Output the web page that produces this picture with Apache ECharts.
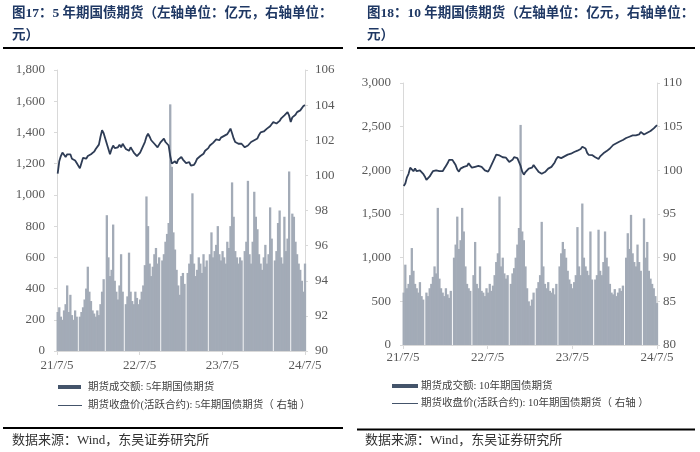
<!DOCTYPE html>
<html><head><meta charset="utf-8">
<script src="https://cdn.jsdelivr.net/npm/echarts@6/dist/echarts.min.js"></script>
<style>html,body{margin:0;padding:0;background:#fff}#c{width:700px;height:452px}</style>
</head><body><div id="c"></div>
<script>
// x tick labels (one per year, day offsets 0, 365, 730, 1095 from 2021-07-05)
const xTickLabels = ['21/7/5', '22/7/5', '23/7/5', '24/7/5'];

// Fig 17: 5-year treasury futures — weekly turnover (亿元), 0 = holiday gap
const leftVolume = [
  250,280,220,200,260,300,420,250,360,230,200,260,220,0,
  220,250,280,330,400,540,380,320,260,240,220,260,230,300,380,460,0,
  870,600,480,520,810,450,380,330,420,620,380,0,
  300,350,630,380,320,300,380,340,300,330,380,420,550,990,800,560,480,540,620,660,560,600,0,
  580,620,700,750,820,1580,1180,760,650,520,420,360,480,500,430,0,
  500,560,620,1010,560,480,520,600,560,500,620,540,580,0,
  620,760,600,640,680,800,620,580,640,600,560,700,660,800,1080,860,640,600,560,600,580,0,
  640,700,1090,620,560,700,1020,860,780,620,560,520,600,680,560,620,920,720,0,
  580,640,820,900,600,560,860,640,720,1150,0,
  880,860,700,620,560,520,450,380,560
];
// Fig 17: closing price (active contract), right axis
const leftPrice = [
  100.1,100.8,101.1,101.3,101.2,101.05,101.2,101.1,101.2,100.95,
  101.0,100.85,100.7,100.6,100.4,100.7,101.0,101.05,100.95,101.1,
  101.05,101.2,101.3,101.35,101.5,101.6,101.75,102.2,102.57,102.4,
  102.3,101.8,101.5,101.2,101.5,101.7,101.55,101.65,101.6,101.75,
  101.6,101.8,101.65,101.5,101.55,101.4,101.6,101.45,101.3,101.2,
  101.1,101.05,101.3,101.5,101.7,101.9,102.2,102.37,102.2,102.0,
  101.95,101.8,101.85,101.6,101.75,101.9,101.95,102.09,101.9,101.8,
  101.7,101.1,100.67,100.6,100.8,100.67,100.9,101.0,101.05,100.9,
  100.86,100.7,100.6,100.75,100.55,100.48,100.6,100.75,100.95,101.0,
  101.1,101.2,101.23,101.4,101.5,101.55,101.7,101.8,101.85,101.95,
  102.05,102.1,102.0,102.15,102.2,102.25,102.28,102.35,102.5,102.66,
  102.4,102.1,101.9,101.85,101.8,101.75,101.8,101.7,101.6,101.52,
  101.7,101.8,101.9,101.95,102.0,102.05,102.1,102.3,102.45,102.55,
  102.5,102.6,102.66,102.7,102.8,102.9,103.04,103.0,102.95,102.95,
  103.1,103.25,103.35,103.42,103.5,103.6,103.4,103.04,103.3,103.4,
  103.45,103.6,103.65,103.7,103.8,103.95,104.0
];

// Fig 18: 10-year treasury futures — weekly turnover (亿元)
const rightVolume = [
  600,920,650,700,800,1110,850,700,650,600,720,560,520,0,
  600,560,650,700,780,900,820,1570,760,650,600,560,650,580,540,620,0,
  1000,1150,1470,1100,1200,1570,1300,900,700,650,620,0,
  800,1180,700,650,900,620,600,560,650,600,700,620,680,800,950,1050,1700,900,1000,820,760,800,0,
  700,820,880,1000,1150,1340,2520,1300,1200,900,650,500,450,520,600,0,
  650,720,800,1410,900,700,650,720,620,600,650,580,700,0,
  900,1050,1180,1100,1000,850,750,700,650,720,800,1350,900,800,1620,1000,900,850,800,1300,750,0,
  750,800,1320,850,800,950,1300,1000,900,700,600,580,640,560,600,650,620,680,0,
  1000,1280,1100,1490,1050,950,900,1150,950,850,0,
  1450,1000,1180,850,760,700,650,560,480
];
// Fig 18: closing price (active contract), right axis
const rightPrice = [
  98.2,98.5,99.2,99.6,100.3,100.1,99.9,100.2,99.9,100.1,
  100.0,99.8,99.6,99.3,98.9,98.8,99.3,99.6,99.9,99.8,
  100.0,100.05,99.9,100.1,99.9,100.2,100.5,100.8,101.2,101.37,
  101.2,100.9,100.6,100.1,99.85,100.2,100.0,100.4,100.6,100.5,
  100.8,100.6,100.3,100.2,100.4,100.6,100.5,100.45,100.4,100.2,
  100.0,99.9,99.85,100.2,100.6,101.0,101.4,101.8,101.95,101.7,
  101.6,101.5,101.45,101.45,101.2,100.95,100.9,101.2,101.5,101.57,
  101.4,101.3,100.5,99.85,99.5,99.8,99.9,100.2,100.05,100.3,
  100.6,100.4,100.1,99.85,99.8,99.6,99.55,99.8,100.0,100.2,
  100.3,100.4,100.6,100.9,101.3,101.55,101.5,101.4,101.35,101.6,
  101.7,101.8,101.95,101.9,102.0,102.1,102.2,102.25,102.35,102.45,
  102.7,102.9,102.5,102.0,101.76,101.7,101.75,101.69,101.5,101.4,
  101.3,101.6,101.8,101.95,102.05,102.2,102.33,102.5,102.7,102.9,
  103.0,103.1,103.28,103.3,103.4,103.47,103.6,103.7,103.8,103.85,
  103.95,104.0,104.04,104.0,104.1,104.11,104.4,104.62,104.1,104.04,
  104.3,104.43,104.5,104.6,104.81,104.95,105.19
];

// weekly observation day offsets (Fridays, days since 2021-07-05)
const weekDays = leftVolume.map((_, i) => 3 + 7 * i);

const NUM_FONT = '"Liberation Serif","Times New Roman",serif';
const CJK_FONT = '"Liberation Serif","Noto Sans CJK SC",serif';
const AXIS_GRAY = '#D9D9D9';
const LABEL_GRAY = '#595959';
const BAR_COLOR = '#A3ABB7';
const LINE_COLOR = '#2E3C55';
const LEGEND_COLOR = '#44546A';
const TITLE_COLOR = '#1F3864';

const thousands = v => String(v).replace(/\B(?=(\d{3})+(?!\d))/g, ',');

function xAxisCfg(gi, margin) {
  return {
    gridIndex: gi, type: 'value', min: 0, max: 1095, interval: 365,
    axisLine: {show: true, lineStyle: {color: AXIS_GRAY}},
    axisTick: {show: true, length: 4, lineStyle: {color: AXIS_GRAY}},
    splitLine: {show: false},
    axisLabel: {
      margin: margin, color: LABEL_GRAY, fontSize: 13, fontFamily: NUM_FONT,
      formatter: v => xTickLabels[Math.round(v / 365)] || ''
    }
  };
}
function yAxisCfg(gi, pos, min, max, interval, margin, fmt) {
  return {
    gridIndex: gi, type: 'value', position: pos, min: min, max: max, interval: interval,
    axisLine: {show: true, lineStyle: {color: AXIS_GRAY}},
    axisTick: {show: true, length: 3, lineStyle: {color: AXIS_GRAY}},
    splitLine: {show: false},
    axisLabel: {margin: margin, color: LABEL_GRAY, fontSize: 13, fontFamily: NUM_FONT, formatter: fmt}
  };
}

function txt(x, y, text, size, color, weight) {
  return {type: 'text', silent: true, style: {
    x: x, y: y, text: text, fill: color,
    font: (weight || 'normal') + ' ' + size + 'px ' + CJK_FONT,
    verticalAlign: 'middle', textVerticalAlign: 'middle', align: 'left'
  }};
}
function rect(x, y, w, h, fill) {
  return {type: 'rect', silent: true, shape: {x: x, y: y, width: w, height: h}, style: {fill: fill}};
}
function hline(x1, x2, y, color, w) {
  return {type: 'line', silent: true, shape: {x1: x1, y1: y, x2: x2, y2: y}, style: {stroke: color, lineWidth: w}};
}

const chart = echarts.init(document.getElementById('c'), null, {renderer: 'canvas'});
chart.setOption({
  animation: false,
  backgroundColor: '#fff',
  grid: [
    {left: 57, top: 70, width: 248, height: 281},
    {left: 403, top: 83, width: 254, height: 262}
  ],
  xAxis: [xAxisCfg(0, 8), xAxisCfg(1, 6)],
  yAxis: [
    yAxisCfg(0, 'left', 0, 1800, 200, 12, thousands),
    yAxisCfg(0, 'right', 90, 106, 2, 10, v => String(v)),
    yAxisCfg(1, 'left', 0, 3000, 500, 12, thousands),
    yAxisCfg(1, 'right', 80, 110, 5, 6, v => String(v))
  ],
  series: [
    {type: 'bar', xAxisIndex: 0, yAxisIndex: 0, barWidth: 2.3, silent: true,
     itemStyle: {color: BAR_COLOR}, data: leftVolume.map((v, i) => [weekDays[i], v])},
    {type: 'line', xAxisIndex: 0, yAxisIndex: 1, showSymbol: false, silent: true,
     lineStyle: {color: LINE_COLOR, width: 1.8}, data: leftPrice.map((v, i) => [weekDays[i], v])},
    {type: 'bar', xAxisIndex: 1, yAxisIndex: 2, barWidth: 2.3, silent: true,
     itemStyle: {color: BAR_COLOR}, data: rightVolume.map((v, i) => [weekDays[i], v])},
    {type: 'line', xAxisIndex: 1, yAxisIndex: 3, showSymbol: false, silent: true,
     lineStyle: {color: LINE_COLOR, width: 1.8}, data: rightPrice.map((v, i) => [weekDays[i], v])}
  ],
  graphic: [
    txt(12, 14, '图17：5 年期国债期货（左轴单位：亿元，右轴单位：', 13.5, TITLE_COLOR, 'bold'),
    txt(12, 36, '元）', 13.5, TITLE_COLOR, 'bold'),
    rect(3, 47, 340, 2, '#000'),
    txt(367, 14, '图18：10 年期国债期货（左轴单位：亿元，右轴单位：', 13.5, TITLE_COLOR, 'bold'),
    txt(367, 36, '元）', 13.5, TITLE_COLOR, 'bold'),
    rect(357, 47, 338, 2, '#000'),

    rect(58, 385, 23, 4, LEGEND_COLOR),
    txt(88, 387, '期货成交额: 5年期国债期货', 10.5, '#404040'),
    hline(58, 82, 405.5, LEGEND_COLOR, 1),
    txt(88, 405, '期货收盘价(活跃合约): 5年期国债期货（ 右轴 ）', 10.5, '#404040'),

    rect(392, 384, 26, 4, LEGEND_COLOR),
    txt(421, 386, '期货成交额: 10年期国债期货', 10.5, '#404040'),
    hline(392, 418, 403.5, LEGEND_COLOR, 1),
    txt(421, 403, '期货收盘价(活跃合约): 10年期国债期货（ 右轴 ）', 10.5, '#404040'),

    rect(3, 427, 340, 2, '#000'),
    txt(12, 441, '数据来源：Wind，东吴证券研究所', 13, '#333333'),
    rect(357, 428.5, 338, 2, '#000'),
    txt(365, 441, '数据来源：Wind，东吴证券研究所', 13, '#333333')
  ]
});
</script>
</body></html>
